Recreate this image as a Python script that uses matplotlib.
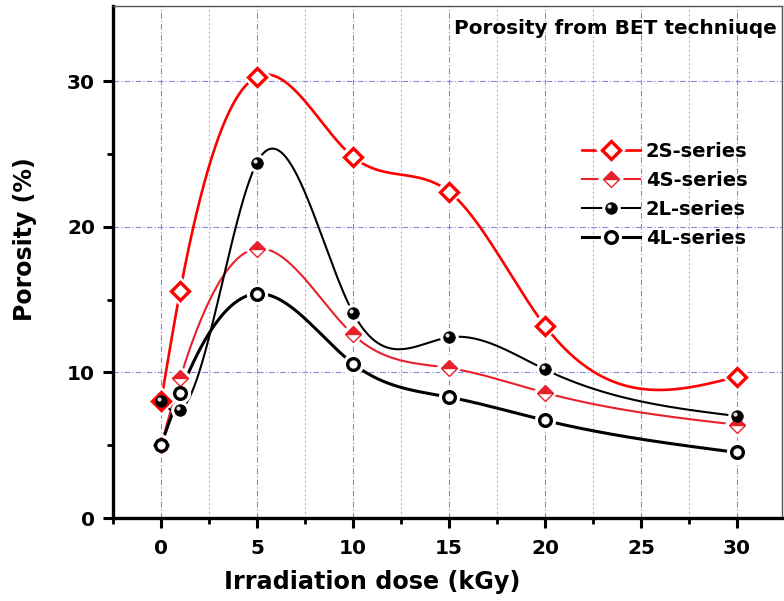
import numpy as np
import matplotlib
matplotlib.use("Agg")
import matplotlib.pyplot as plt
from matplotlib.markers import MarkerStyle
from matplotlib.transforms import Affine2D
from matplotlib.ticker import FixedLocator
from matplotlib.legend_handler import HandlerTuple

# Irradiation dose (kGy) and porosity (%) per sample series
dose = [0, 1, 5, 10, 15, 20, 30]
por_2S = [8.0, 15.6, 30.3, 24.8, 22.4, 13.2, 9.7]
por_4S = [5.0, 9.6, 18.5, 12.6, 10.3, 8.6, 6.4]
por_2L = [8.0, 7.4, 24.4, 14.1, 12.4, 10.2, 7.0]
por_4L = [5.0, 8.6, 15.4, 10.6, 8.3, 6.7, 4.5]

x_ticks = [0, 5, 10, 15, 20, 25, 30]
x_minor = [-2.5, 2.5, 7.5, 12.5, 17.5, 22.5, 27.5]
y_ticks = [0, 10, 20, 30]
y_minor = [5, 15, 25]


def natural_spline(x, y, n=600):
    """Natural cubic spline through (x, y), sampled densely for drawing."""
    x = np.asarray(x, float)
    y = np.asarray(y, float)
    k = len(x)
    h = np.diff(x)
    A = np.zeros((k, k))
    b = np.zeros(k)
    A[0, 0] = A[-1, -1] = 1.0
    for i in range(1, k - 1):
        A[i, i - 1] = h[i - 1]
        A[i, i] = 2 * (h[i - 1] + h[i])
        A[i, i + 1] = h[i]
        b[i] = 6 * ((y[i + 1] - y[i]) / h[i] - (y[i] - y[i - 1]) / h[i - 1])
    M = np.linalg.solve(A, b)
    xs = np.linspace(x[0], x[-1], n)
    idx = np.clip(np.searchsorted(x, xs) - 1, 0, k - 2)
    x0, x1 = x[idx], x[idx + 1]
    y0, y1 = y[idx], y[idx + 1]
    m0, m1 = M[idx], M[idx + 1]
    hh = x1 - x0
    t0 = x1 - xs
    t1 = xs - x0
    ys = (m0 * t0 ** 3 + m1 * t1 ** 3) / (6 * hh) \
        + (y0 / hh - m0 * hh / 6) * t0 + (y1 / hh - m1 * hh / 6) * t1
    return xs, ys


plt.rcParams["font.family"] = ["DejaVu Sans"]
plt.rcParams["font.weight"] = "bold"
plt.rcParams["grid.color"] = "#8585e4"
plt.rcParams["grid.linewidth"] = 0.8
plt.rcParams["grid.alpha"] = 1.0

fig = plt.figure(figsize=(7.84, 6.01), dpi=100)
ax = fig.add_axes([113 / 784, 83 / 601, 669 / 784, 512 / 601])

RED = "#ff0000"
RED2 = "#e8202c"

series = [
    dict(y=por_2S, label="2S-series", color=RED, lw=1.9,
         marker="D", ms=9.0, mfc="white", mec=RED, mew=2.4, fs="full", alt=None),
    dict(y=por_4S, label="4S-series", color=RED2, lw=1.5,
         marker="D", ms=8.4, mfc=RED2, mec=RED2, mew=1.0, fs="top", alt="white"),
    dict(y=por_2L, label="2L-series", color="black", lw=1.5,
         marker="o", ms=8.3, mfc="black", mec="black", mew=0.6, fs="full", alt=None),
    dict(y=por_4L, label="4L-series", color="black", lw=2.2,
         marker="o", ms=8.4, mfc="white", mec="black", mew=2.4, fs="full", alt=None),
]

shine = MarkerStyle("o", transform=Affine2D().scale(0.36).translate(-0.17, 0.17))

handles = []
for i, s in enumerate(series):
    xs, ys = natural_spline(dose, s["y"])
    ax.plot(xs, ys, color=s["color"], lw=s["lw"], zorder=3 + 0.1 * i,
            solid_capstyle="butt")
    # white halo leaves a small gap between the curves and each symbol
    halo = s["ms"] + s["mew"] + (4.5 if s["marker"] == "o" else 3.5)
    ax.plot(dose, s["y"], ls="none", marker=s["marker"],
            ms=halo, mfc="white", mec="white", mew=0, zorder=4)
    kw = dict(marker=s["marker"], ms=s["ms"], mfc=s["mfc"], mec=s["mec"],
              mew=s["mew"], fillstyle=s["fs"])
    if s["alt"] is not None:
        kw["markerfacecoloralt"] = s["alt"]
    ax.plot(dose, s["y"], ls="none", zorder=5 + i, **kw)
    h_gap = plt.Line2D([], [], ls="none", marker=s["marker"], ms=halo,
                       mfc="white", mec="white", mew=0)
    h_line = plt.Line2D([], [], color=s["color"], lw=s["lw"])
    h_mark = plt.Line2D([], [], ls="none", **kw)
    parts = [h_line, h_gap, h_mark]
    if s["label"] == "2L-series":
        # glossy highlight on the ball symbol
        ax.plot(dose, s["y"], ls="none", marker=shine, ms=s["ms"],
                mfc="#e0e0e0", mec="none", zorder=5 + i + 0.5)
        parts.append(plt.Line2D([], [], ls="none", marker=shine, ms=s["ms"],
                                mfc="#e0e0e0", mec="none"))
    handles.append(tuple(parts))

leg = ax.legend(handles, [s["label"] for s in series],
                handler_map={tuple: HandlerTuple(ndivide=1, pad=0)},
                loc="upper left", bbox_to_anchor=(0.69, 0.75),
                frameon=False, fontsize=14, handlelength=2.95,
                handletextpad=0.3, labelspacing=0.52, borderaxespad=0)
for t in leg.get_texts():
    t.set_fontweight("bold")

ax.set_xlim(-2.5, 32.35)
ax.set_ylim(0, 35.15)
ax.xaxis.set_major_locator(FixedLocator(x_ticks))
ax.xaxis.set_minor_locator(FixedLocator(x_minor))
ax.yaxis.set_major_locator(FixedLocator(y_ticks))
ax.yaxis.set_minor_locator(FixedLocator(y_minor))

for side in ("left", "bottom"):
    ax.spines[side].set_linewidth(2.4)
for side in ("top", "right"):
    ax.spines[side].set_linewidth(1.0)
    ax.spines[side].set_color("#555555")

ax.tick_params(which="major", direction="out", length=7, width=2.2,
               labelsize=14.4, top=False, right=False)
ax.tick_params(axis="x", which="major", pad=8)
ax.tick_params(axis="y", which="major", pad=6)
ax.tick_params(which="minor", direction="out", length=4.5, width=2.0,
               top=False, right=False)
for lab in ax.get_xticklabels() + ax.get_yticklabels():
    lab.set_fontweight("bold")

ax.set_axisbelow(True)
ax.grid(True, which="major", axis="both", ls=(0, (5, 2, 1, 2)))
ax.xaxis.grid(True, which="minor", color="#eca0bc", lw=0.8, ls=(0, (2, 2)))

ax.set_xlabel("Irradiation dose (kGy)", fontsize=17.2, fontweight="bold")
ax.xaxis.set_label_coords(0.387, -0.102)
ax.xaxis.label.set_verticalalignment("top")
ax.set_ylabel("Porosity (%)", fontsize=17, fontweight="bold")
ax.yaxis.set_label_coords(-0.114, 0.545)

ax.text(0.9925, 0.975, "Porosity from BET techniuqe", transform=ax.transAxes,
        ha="right", va="top", fontsize=14.4, fontweight="bold", zorder=20)

fig.savefig("out.png", dpi=100)
